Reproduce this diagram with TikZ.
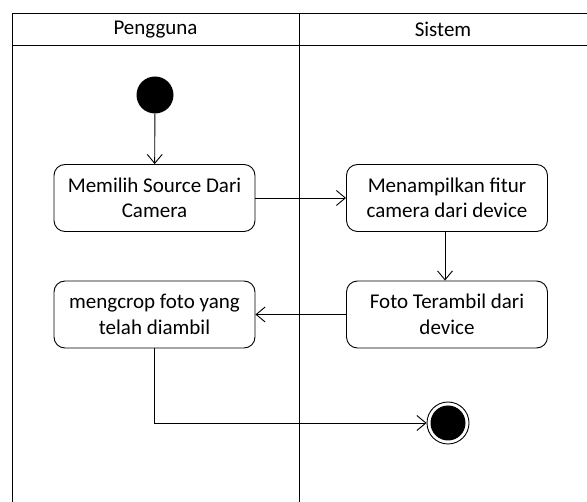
\documentclass[tikz,border=0pt]{standalone}
\usepackage{fontspec}
\setmainfont{Carlito}
\usetikzlibrary{arrows.meta}
\begin{document}
\begin{tikzpicture}[x=1pt,y=-1pt,
  act/.style={draw,line width=0.9pt,rounded corners=11pt,minimum width=201pt,minimum height=67pt,align=center,font=\fontsize{21}{25.5}\selectfont,inner sep=2pt},
  flow/.style={line width=0.9pt,-{Straight Barb[length=9pt,width=15pt,line width=0.9pt]}},
  frame/.style={line width=1pt},
  hdr/.style={font=\fontsize{21}{25}\selectfont}]
\useasboundingbox (0,0) rectangle (587,502);
% swimlane frame
\draw[frame] (12,502) -- (12,13.5) -- (587,13.5);
\draw[frame] (12,45.5) -- (587,45.5);
\draw[frame] (299,13.5) -- (299,502);
\node[hdr] (h1) at (155.5,29.5) {Pengguna};
\node[hdr] (h2) at (443,29.5) {Sistem};
% nodes
\node[circle,fill=black,minimum size=37pt,inner sep=0pt] (start) at (155,95) {};
\node[act] (a1) at (154.5,198) {Memilih Source Dari\\Camera};
\node[act] (a2) at (447,198) {Menampilkan fitur\\camera dari device};
\node[act] (a3) at (447,314.5) {Foto Terambil dari\\device};
\node[act] (a4) at (154.5,314.5) {mengcrop foto yang\\telah diambil};
\node[circle,draw,line width=0.9pt,minimum size=42pt,inner sep=0pt] (end) at (448,423) {};
\node[circle,fill=black,minimum size=35pt,inner sep=0pt] (endin) at (end.center) {};
% connectors
\draw[flow] (start) -- (a1);
\draw[flow] (a1) -- (a2);
\draw[flow] (a2.south -| 445,0) -- (a3.north -| 445,0);
\draw[flow] (a3) -- (a4);
\draw[flow] (a4.south) |- (end.west);
\end{tikzpicture}
\end{document}
